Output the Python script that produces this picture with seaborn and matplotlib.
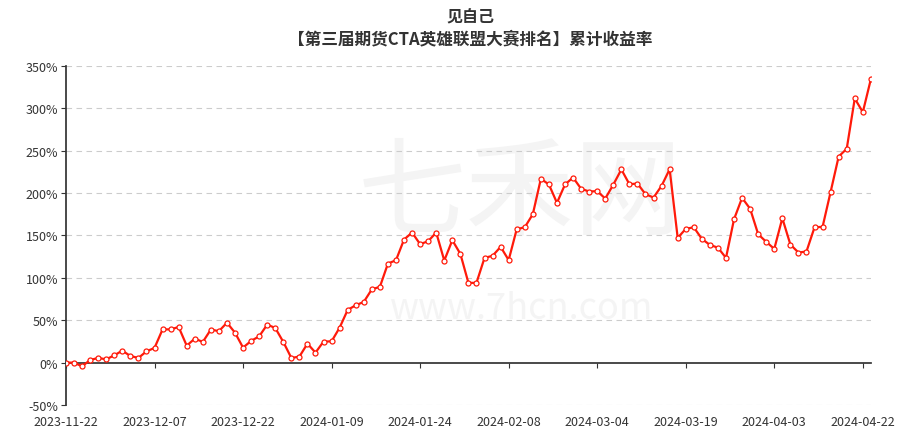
import matplotlib.pyplot as plt
import pandas as pd
import seaborn as sns

TITLE = "见自己"
SUBTITLE = "【第三届期货CTA英雄联盟大赛排名】累计收益率"

tick_labels = [
    "2023-11-22", "2023-12-07", "2023-12-22", "2024-01-09", "2024-01-24",
    "2024-02-08", "2024-03-04", "2024-03-19", "2024-04-03", "2024-04-22",
]

# cumulative return, %, one value per trading day
returns = [
    0.0, 0.0, -4.4, 3.1, 5.5, 3.9, 8.6, 14.1, 7.8, 5.5,
    13.3, 17.3, 39.2, 39.2, 42.0, 20.0, 28.3, 24.4, 39.0, 37.1,
    47.1, 35.3, 17.7, 25.6, 31.0, 44.8, 40.9, 24.4, 5.5, 7.1,
    22.4, 11.8, 24.8, 25.1, 41.3, 62.2, 67.7, 71.6, 86.5, 89.4,
    116.9, 120.8, 145.2, 153.5, 139.7, 143.3, 153.5, 120.4, 144.4, 128.3,
    94.1, 94.1, 123.6, 126.0, 136.6, 121.0, 157.4, 159.7, 175.1, 216.9,
    210.2, 188.5, 210.2, 218.4, 205.1, 201.9, 202.3, 193.6, 210.0, 227.9,
    210.5, 211.3, 198.7, 194.8, 208.6, 228.2, 147.2, 157.8, 159.7, 146.0,
    138.9, 135.6, 123.6, 169.2, 194.4, 181.5, 151.5, 142.5, 134.2, 170.4,
    139.3, 129.9, 131.1, 159.7, 160.2, 201.5, 243.2, 252.3, 311.7, 295.5,
    334.5,
]

y_ticks = [-50, 0, 50, 100, 150, 200, 250, 300, 350]
label_step = 11

sns.set_theme(style="white")
plt.rcParams["font.family"] = ["Noto Sans CJK SC", "DejaVu Sans"]

df = pd.DataFrame({"idx": range(len(returns)), "ret": returns})

fig = plt.figure(figsize=(9.1, 4.35), dpi=100)
ax = fig.add_axes([0.0725, 0.0667, 0.8845, 0.7793])

# faint watermark
ax.text(0.565, 0.62, "七禾网", transform=ax.transAxes, ha="center", va="center",
        fontsize=78, color="#f4f4f4", zorder=0)
ax.text(0.565, 0.285, "www.7hcn.com", transform=ax.transAxes, ha="center", va="center",
        fontsize=26, color="#f4f4f4", zorder=0)

for v in y_ticks:
    if v != 0:
        ax.axhline(v, color="#cccccc", linewidth=0.8, linestyle=(0, (5, 4)), zorder=1)

sns.lineplot(
    data=df, x="idx", y="ret", ax=ax, color="#ff1a0a", linewidth=1.6,
    marker="o", markersize=3.6, markerfacecolor="white", markeredgecolor="#ff1a0a",
    markeredgewidth=0.9, zorder=3,
)

ax.set_xlim(0, len(returns) - 1)
ax.set_ylim(-50, 350)
ax.set_xlabel("")
ax.set_ylabel("")

ax.set_yticks(y_ticks)
ax.set_yticklabels([f"{v}%" for v in y_ticks])
ax.set_xticks(list(range(0, len(returns), label_step))[: len(tick_labels)])
ax.set_xticklabels(tick_labels)

for side in ["top", "right"]:
    ax.spines[side].set_visible(False)
ax.spines["left"].set_color("#333333")
ax.spines["bottom"].set_color("#333333")
ax.spines["bottom"].set_position(("data", 0))

ax.tick_params(axis="y", length=3.5, width=0.8, color="#333333", labelsize=9,
               labelcolor="#333333", pad=2, left=True)
ax.tick_params(axis="x", length=3.6, width=0.8, color="#333333", labelsize=9,
               labelcolor="#333333", pad=34, bottom=True, direction="out")

fig.text(0.517, 0.96, TITLE, ha="center", va="center", fontsize=11.5,
         fontweight="bold", color="#333333")
fig.text(0.517, 0.91, SUBTITLE, ha="center", va="center", fontsize=12,
         fontweight="bold", color="#333333")

fig.savefig("out.png", dpi=100)
